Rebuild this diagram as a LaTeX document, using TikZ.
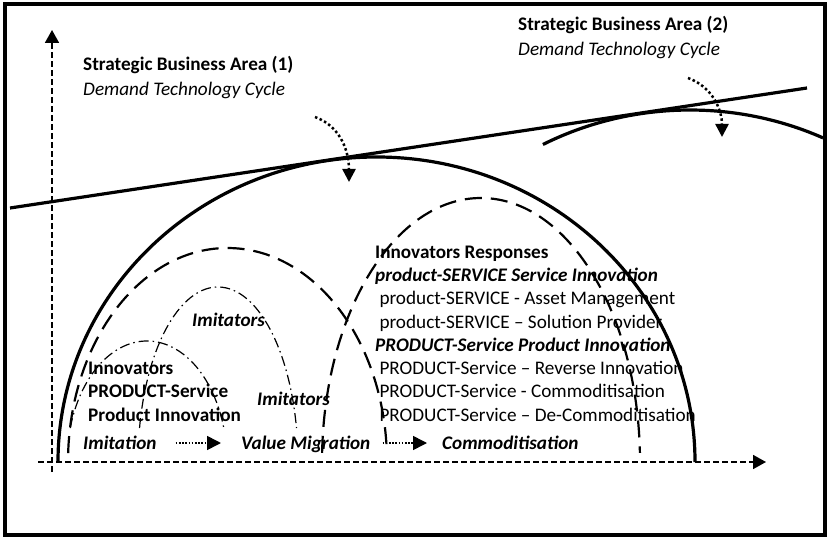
\documentclass[tikz,border=0pt]{standalone}
\usepackage{fontspec}
\setmainfont{Carlito}
\usetikzlibrary{arrows.meta}

\tikzset{
  thickline/.style={line width=3.2pt},
  axisline/.style={line width=1.8pt, dash pattern=on 6pt off 3pt, -{Triangle[length=13pt,width=14pt]}},
  longdash/.style={line width=2.2pt, dash pattern=on 17pt off 9pt},
  dashdotline/.style={line width=1.2pt, dash pattern=on 10pt off 4pt on 1.5pt off 4pt},
  droparrow/.style={line width=2.5pt, dash pattern=on 2.5pt off 2.5pt, -{Triangle[length=13pt,width=13pt]}},
  flowarrow/.style={line width=1.6pt, dash pattern=on 1.6pt off 1.6pt, -{Triangle[length=14pt,width=14pt]}},
  lbl/.style={inner sep=0pt, anchor=west, text height=12.4pt, text depth=0pt},
  block/.style={inner sep=0pt, anchor=west, align=left}
}

\begin{document}
\begin{tikzpicture}[x=1pt, y=1pt, font=\fontsize{19.2}{23.3}\selectfont]
  \useasboundingbox (0,0) rectangle (829,539);
  \draw[line width=3.5pt] (5,4) rectangle (825,535); % draw frame
  \coordinate (xstart) at (38,77); \coordinate (xend) at (766,77);
  \coordinate (ystart) at (52,67); \coordinate (yend) at (52,509);
  \draw[axisline] (xstart) -- (xend); % draw time axis
  \draw[axisline] (ystart) -- (yend); % draw value axis
  \draw[thickline] (10,331) -- (807,451); % draw tangent line
  \draw[thickline] (58,77) arc[start angle=180, end angle=0, x radius=318.5, y radius=305]; % draw cycle of area 1
  \draw[thickline] (690,124) ++(117.5:318.5 and 305) arc[start angle=117.5, end angle=65.3, x radius=318.5, y radius=305]; % draw cycle of area 2
  \draw[longdash] (227.5,77) ++(177.6:159.5 and 214) arc[start angle=177.6, end angle=2.4, x radius=159.5, y radius=214]; % first dashed wave
  \draw[longdash] (481,77) ++(178:159 and 264) arc[start angle=178, end angle=2, x radius=159, y radius=264]; % second dashed wave
  \draw[dashdotline] (218,77) ++(168.8:80 and 175) arc[start angle=168.8, end angle=11.2, x radius=80, y radius=175]; % imitators wave
  \draw[dashdotline] (147,77) ++(163.7:80 and 121) arc[start angle=163.7, end angle=16.3, x radius=80, y radius=121]; % innovators wave
  \coordinate (dropone) at (315,422); \coordinate (hitone) at (349,357);
  \coordinate (droptwo) at (688,461); \coordinate (hittwo) at (722,402);
  \draw[droparrow] (dropone) to[out=-20, in=90] (hitone); % arrow to cycle 1
  \draw[droparrow] (droptwo) to[out=-20, in=90] (hittwo); % arrow to cycle 2
  \node[block, font=\fontsize{19.2}{25}\selectfont] (sbaone) at (83,461.5) {\textbf{Strategic Business Area (1)}\\\textit{Demand Technology Cycle}};
  \node[block, font=\fontsize{19.2}{25}\selectfont] (sbatwo) at (518,501.5) {\textbf{Strategic Business Area (2)}\\\textit{Demand Technology Cycle}};
  \node[block] (responses) at (375,205.5) {\textbf{Innovators Responses}\\
    \textbf{\textit{product-SERVICE Service Innovation}}\\
    \hspace*{4.3pt}product-SERVICE - Asset Management\\
    \hspace*{4.3pt}product-SERVICE – Solution Provider\\
    \textbf{\textit{PRODUCT-Service Product Innovation}}\\
    \hspace*{4.3pt}PRODUCT-Service – Reverse Innovation\\
    \hspace*{4.3pt}PRODUCT-Service - Commoditisation\\
    \hspace*{4.3pt}PRODUCT-Service – De-Commoditisation};
  \node[block, font=\fontsize{19.2}{23.3}\selectfont\bfseries] (innovators) at (88,147.3) {Innovators\\PRODUCT-Service\\Product Innovation};
  \node[lbl] (imitone) at (192,219) {\textbf{\textit{Imitators}}};
  \node[lbl] (imittwo) at (257,140) {\textbf{\textit{Imitators}}};
  \node[lbl] (imitation) at (83,96) {\textbf{\textit{Imitation}}};
  \node[lbl] (valmig) at (241,96) {\textbf{\textit{Value Migration}}};
  \node[lbl] (commod) at (442,96) {\textbf{\textit{Commoditisation}}};
  \draw[flowarrow] ([xshift=19pt]imitation.east) -- ([xshift=-20pt]valmig.west); % imitation to migration
  \draw[flowarrow] ([xshift=12pt]valmig.east) -- ([xshift=-15pt]commod.west); % migration to commoditisation
\end{tikzpicture}
\end{document}
